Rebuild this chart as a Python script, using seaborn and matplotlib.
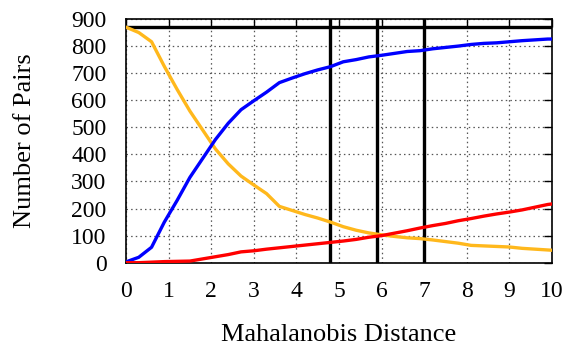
import matplotlib
matplotlib.use("Agg")
import matplotlib.pyplot as plt
import seaborn as sns
import pandas as pd

distance = [0, 0.3, 0.6, 0.9, 1.2, 1.5, 1.8, 2.1, 2.4, 2.7, 3.0, 3.3, 3.6, 3.9, 4.2, 4.5,
            4.8, 5.1, 5.4, 5.7, 6.0, 6.3, 6.6, 6.9, 7.2, 7.5, 7.8, 8.1, 8.4, 8.7, 9.0,
            9.3, 9.6, 9.9, 10.0]
blue_vals = [3, 20, 57, 150, 230, 315, 385, 455, 515, 565, 598, 630, 665, 682, 698, 712,
             724, 742, 750, 760, 766, 773, 780, 783, 790, 795, 800, 806, 810, 812, 816,
             820, 823, 826, 826]
yellow_vals = [870, 850, 816, 725, 640, 560, 490, 420, 365, 320, 287, 255, 208, 193, 178, 165,
               150, 133, 120, 110, 103, 97, 92, 89, 84, 78, 72, 64, 62, 60, 58,
               53, 50, 47, 46]
red_vals = [0, 0, 2, 4, 5, 6, 14, 22, 30, 40, 44, 50, 55, 60, 65, 70,
            75, 80, 86, 94, 100, 109, 118, 128, 137, 145, 155, 163, 172, 180, 187,
            195, 205, 215, 217]
total_pairs = 872
vlines = [4.8, 5.9, 7.0]
x_ticks = list(range(0, 11))
y_ticks = list(range(0, 1000, 100))

df = pd.DataFrame({"d": distance, "blue": blue_vals, "yellow": yellow_vals, "red": red_vals})

sns.set_theme(style="white")
plt.rcParams['font.family'] = ['Liberation Serif', 'DejaVu Serif']
plt.rcParams['text.color'] = 'black'
plt.rcParams['axes.labelcolor'] = 'black'

fig = plt.figure(figsize=(5.74, 3.52), dpi=100)
ax = fig.add_axes([0.2195, 0.2537, 0.7422, 0.6923])

ax.grid(True, color="#555555", linestyle=(0, (1.2, 2.5)), linewidth=0.9)
ax.set_axisbelow(True)

ax.axhline(total_pairs, color="black", lw=2.4, zorder=3)
for v in vlines:
    ax.axvline(v, color="black", lw=2.4, zorder=3)

sns.lineplot(data=df, x="d", y="yellow", color="#FFB81C", lw=2.4, ax=ax, zorder=4)
sns.lineplot(data=df, x="d", y="blue", color="#0000FF", lw=2.4, ax=ax, zorder=4)
sns.lineplot(data=df, x="d", y="red", color="#FF0000", lw=2.4, ax=ax, zorder=4)

ax.set_xlim(0, 10)
ax.set_ylim(0, 900)
ax.set_xticks(x_ticks)
ax.set_yticks(y_ticks)
ax.tick_params(direction="in", length=6, width=1, top=True, right=True,
               labelsize=17, colors="black")
ax.tick_params(axis="x", pad=13)
ax.tick_params(axis="y", pad=14)
for s in ax.spines.values():
    s.set_color("black")
    s.set_linewidth(1.2)
ax.set_xlabel("Mahalanobis Distance", fontsize=19, labelpad=16)
ax.set_ylabel("Number of Pairs", fontsize=19, labelpad=25)

fig.savefig("out.png", dpi=100)
